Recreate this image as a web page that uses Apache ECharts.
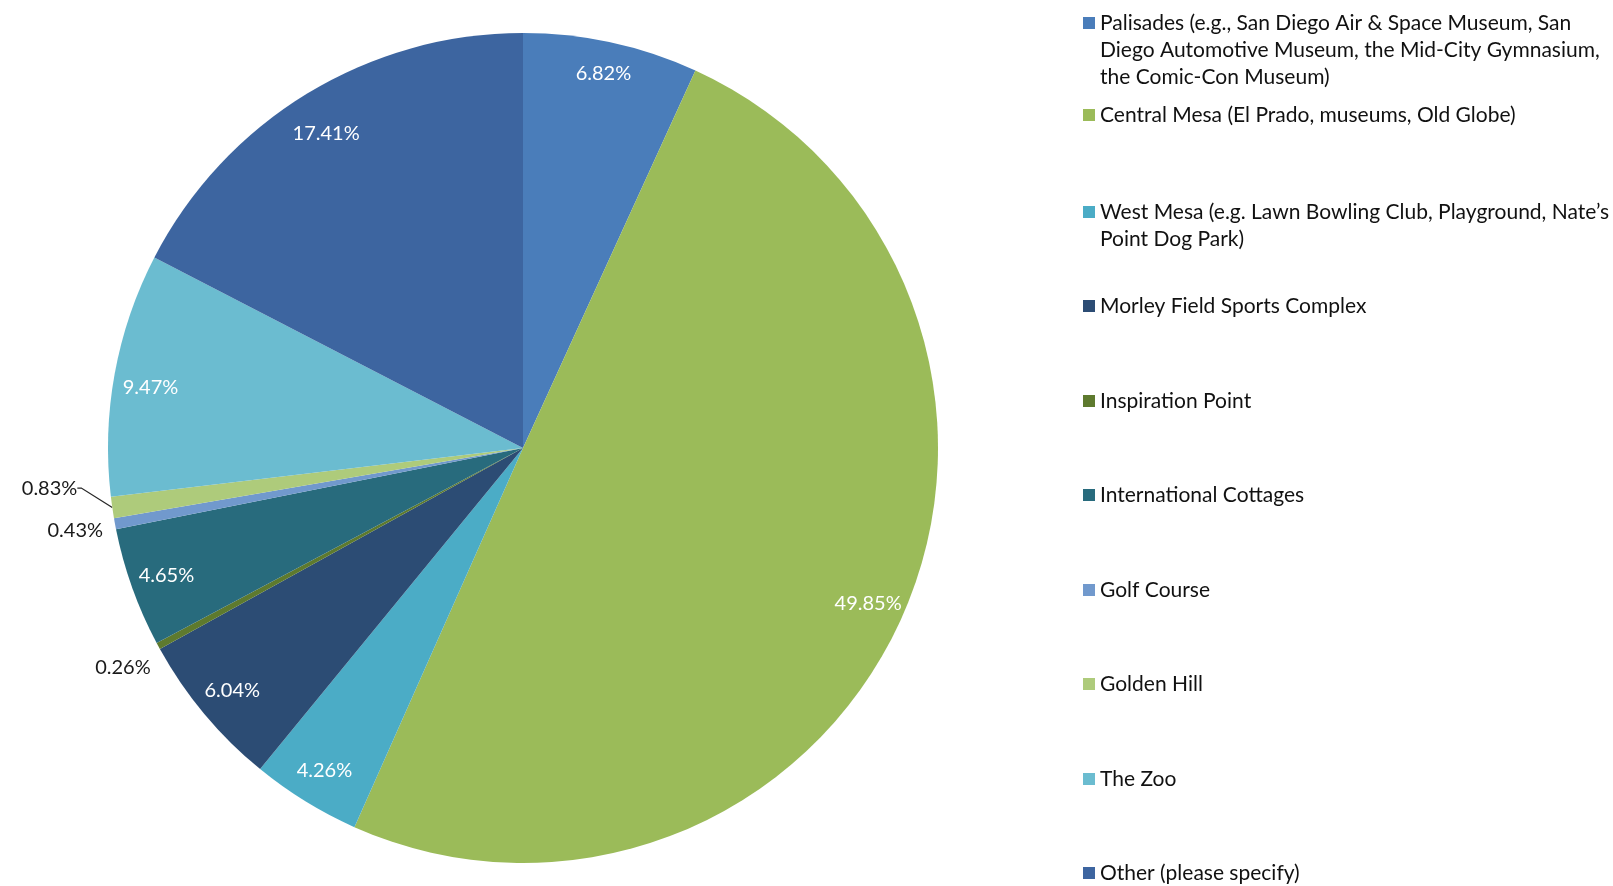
<!DOCTYPE html>
<html>
<head>
<meta charset="utf-8">
<script src="https://cdn.jsdelivr.net/npm/echarts@6/dist/echarts.min.js"></script>
<style>
html,body{margin:0;padding:0;background:#fff;}
#chart{width:1613px;height:886px;}
</style>
</head>
<body>
<div id="chart"></div>
<script>
// ---- data ----
const categories = [
  'Palisades (e.g., San Diego Air & Space Museum, San Diego Automotive Museum, the Mid-City Gymnasium, the Comic-Con Museum)',
  'Central Mesa (El Prado, museums, Old Globe)',
  'West Mesa (e.g. Lawn Bowling Club, Playground, Nate\u2019s Point Dog Park)',
  'Morley Field Sports Complex',
  'Inspiration Point',
  'International Cottages',
  'Golf Course',
  'Golden Hill',
  'The Zoo',
  'Other (please specify)'
];
const values = [6.82, 49.85, 4.26, 6.04, 0.26, 4.65, 0.43, 0.83, 9.47, 17.41];
const legendLabels = [
  'Palisades (e.g., San Diego Air & Space Museum, San\nDiego Automotive Museum, the Mid-City Gymnasium,\nthe Comic-Con Museum)',
  'Central Mesa (El Prado, museums, Old Globe)',
  'West Mesa (e.g. Lawn Bowling Club, Playground, Nate\u2019s\nPoint Dog Park)',
  'Morley Field Sports Complex',
  'Inspiration Point',
  'International Cottages',
  'Golf Course',
  'Golden Hill',
  'The Zoo',
  'Other (please specify)'
];

// ---- styles / layout ----
const colors = ['#4A7DBA','#9BBB59','#4BACC6','#2C4C74','#5E7A2E','#286B7D','#7199CD','#AECB7B','#6BBCD0','#3D65A0'];
const FONT = 'Lato';
const R = 415, CX = 523, CY = 448;
const LH = 27;
const legendCenters = [23, 115, 212, 306, 401, 495, 590, 684, 779, 873];
const outsideThreshold = 1;           // slices below this get outside labels
const leaderLineFor = ['Golden Hill'];
const labelNudge = { 'Golden Hill': [-22, -20], 'Golf Course': [1, 6], 'Inspiration Point': [5, 20] };
const insideNudge = { 'Other (please specify)': [0, 9], 'Palisades (e.g., San Diego Air & Space Museum, San Diego Automotive Museum, the Mid-City Gymnasium, the Comic-Con Museum)': [0, -5], 'The Zoo': [0, 7] };

const fmt = p => p.value.toFixed(2) + '%';

const mainData = categories.map((name, i) => {
  const small = values[i] < outsideThreshold;
  return {
    name, value: values[i],
    itemStyle: { color: colors[i] },
    label: { show: small },
    labelLine: { show: small && leaderLineFor.includes(name) }
  };
});
const overlayData = categories.map((name, i) => ({
  name, value: values[i],
  label: { show: values[i] >= outsideThreshold }
}));

// legend icon: 12px square aligned with the first text line
function iconFor(n) {
  const H = n * LH;
  const t = (LH - 12) / 2;
  return 'path://M0,0L0.01,0L0,0.01Z M0,' + t + 'L12,' + t + 'L12,' + (t + 12) + 'L0,' + (t + 12) + 'Z M0,' + H + 'L0.01,' + H + 'L0,' + (H - 0.01) + 'Z';
}

const legends = categories.map((name, i) => {
  const n = legendLabels[i].split('\n').length;
  return {
    data: [name],
    orient: 'vertical',
    left: 1083,
    top: legendCenters[i] - LH / 2,
    padding: 0,
    itemWidth: 12,
    itemHeight: n * LH,
    itemGap: 0,
    icon: iconFor(n),
    selectedMode: false,
    formatter: () => legendLabels[i],
    textStyle: {
      fontFamily: FONT, fontSize: 21, color: '#111111',
      lineHeight: LH
    }
  };
});

const chart = echarts.init(document.getElementById('chart'), null, { renderer: 'canvas' });
chart.setOption({
  animation: false,
  backgroundColor: '#ffffff',
  legend: legends,
  series: [
    {
      type: 'pie',
      name: 'main',
      center: [CX, CY],
      radius: [0, R],
      startAngle: 90,
      clockwise: true,
      avoidLabelOverlap: false,
      silent: true,
      itemStyle: { borderWidth: 0 },
      label: {
        show: false, position: 'outside', formatter: fmt,
        fontFamily: FONT, fontSize: 20, color: '#1a1a1a', distanceToLabelLine: 5
      },
      labelLine: { show: false, length: 4, length2: 4, smooth: false, lineStyle: { color: '#262626', width: 1.3 } },
      labelLayout: function (params) {
        const nudge = labelNudge[categories[params.dataIndex]];
        if (!nudge) return {};
        const r = params.labelRect;
        return {
          x: r.x + r.width + nudge[0],
          y: r.y + r.height / 2 + nudge[1],
          align: 'right',
          verticalAlign: 'middle'
        };
      },
      emphasis: { disabled: true },
      data: mainData
    },
    {
      type: 'pie',
      name: 'labels',
      center: [CX, CY],
      radius: [R * 0.81, R],
      startAngle: 90,
      clockwise: true,
      silent: true,
      avoidLabelOverlap: false,
      itemStyle: { color: 'rgba(0,0,0,0)', borderWidth: 0 },
      label: {
        show: true, position: 'inside', formatter: fmt,
        fontFamily: FONT, fontSize: 20, color: '#ffffff'
      },
      labelLine: { show: false },
      labelLayout: function (params) {
        const nudge = insideNudge[categories[params.dataIndex]];
        if (!nudge) return {};
        return { dx: nudge[0], dy: nudge[1] };
      },
      emphasis: { disabled: true },
      data: overlayData
    }
  ]
});
</script>
</body>
</html>
